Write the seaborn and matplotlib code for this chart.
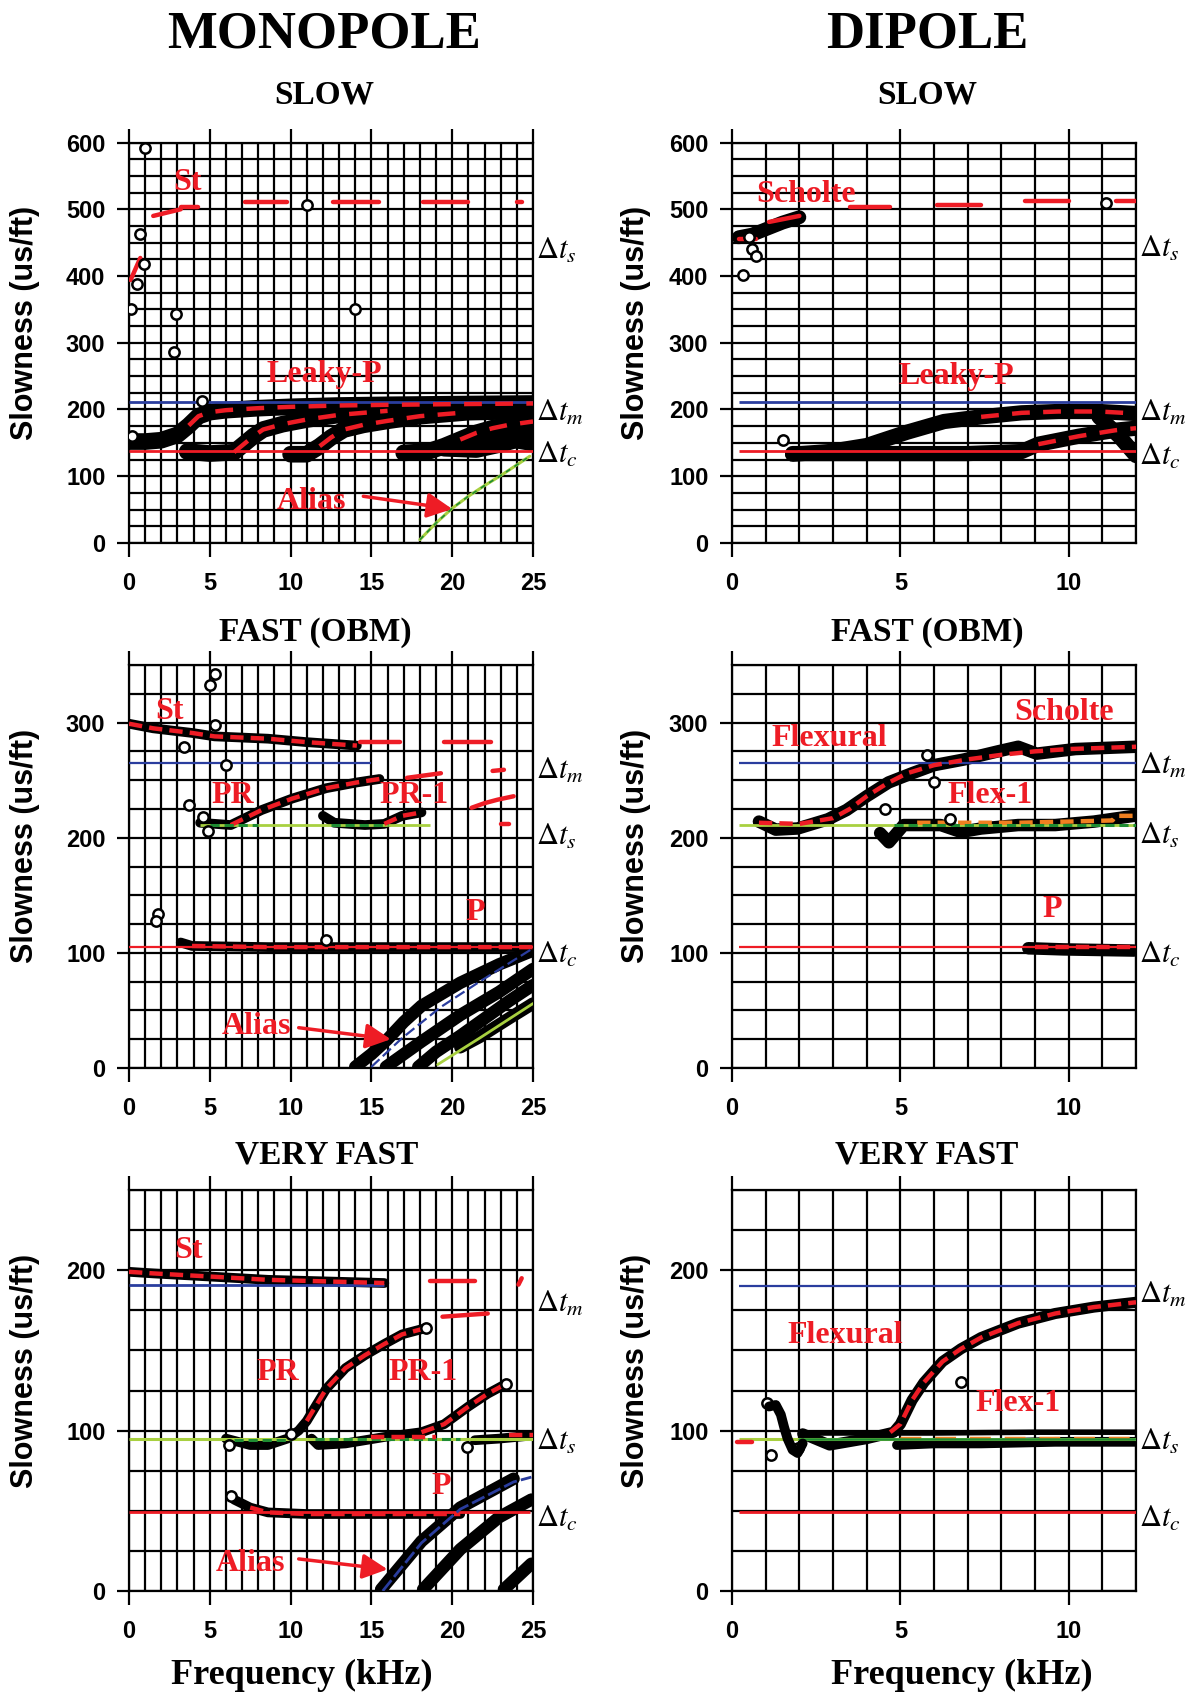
import matplotlib
matplotlib.use("Agg")
import matplotlib.pyplot as plt
from matplotlib.ticker import MultipleLocator
import seaborn as sns

sns.set_theme(style="white")
plt.rcParams["font.family"] = ["Liberation Sans", "DejaVu Sans"]
plt.rcParams["mathtext.fontset"] = "stix"

RED = "#ee1c25"
BLUE = "#2a3d9e"
LGREEN = "#a8d040"
DGREEN = "#1e8c32"
ORANGE = "#f08020"

# ---------------- DATA ----------------
# Top-left: MONOPOLE / SLOW
TL_REF_M, TL_REF_C = 211, 138
TL_B1_F = [0.0, 1.0, 2.0, 3.0, 3.7, 4.3, 5.0, 6.0, 8.0, 10.0, 13.0, 16.0, 20.0, 25.0]
TL_B1_S = [152, 152, 154, 162, 176, 190, 196, 199, 202, 204, 206, 207, 208, 209]
TL_B2_F = [3.6, 5.0, 6.5, 7.2, 7.7, 8.3, 9.5, 11.0, 13.0, 16.0, 20.0, 25.0]
TL_B2_S = [137, 134, 136, 150, 160, 170, 178, 185, 192, 198, 202, 203]
TL_B3_F = [10.0, 11.0, 11.8, 12.5, 13.3, 14.5, 16.0, 18.0, 21.0, 25.0]
TL_B3_S = [133, 133, 145, 158, 170, 177, 183, 190, 196, 198]
TL_B4_F = [17.0, 18.5, 19.5, 20.5, 21.5, 22.5, 23.5, 25.0]
TL_B4_S = [135, 137, 145, 155, 165, 172, 177, 182]
TL_B5_F = [19.5, 21.5, 23.0, 24.0, 25.0]
TL_B5_S = [142, 140, 148, 155, 162]
TL_B6_F = [21.0, 23.0, 25.0]
TL_B6_S = [150, 158, 150]
TL_ST_F = [[0.1, 0.7], [1.5, 3.2], [3.2, 4.3], [7.2, 9.8], [12.6, 15.5], [18.2, 21.0], [24.0, 24.3]]
TL_ST_S = [[394, 427], [490, 500], [504, 504], [511, 511], [511, 511], [511, 511], [511, 511]]
TL_ALIAS_F = [18.0, 19.0, 20.0, 21.0, 22.0, 23.0, 24.0, 24.8]
TL_ALIAS_S = [5, 30, 52, 70, 86, 101, 117, 130]
TL_CIRC_F = [1.0, 0.7, 0.9, 0.5, 0.1, 2.9, 2.8, 11.0, 14.0, 0.2, 4.5]
TL_CIRC_S = [592, 463, 418, 388, 350, 343, 286, 507, 350, 160, 212]

# Top-right: DIPOLE / SLOW
TR_REF_M, TR_REF_C = 211, 138
TR_SCH_F = [0.2, 0.6, 1.0, 1.5, 2.0]
TR_SCH_S = [458, 462, 470, 480, 488]
TR_SCHM_F = [[0.2, 0.7], [1.1, 2.0], [3.5, 4.7], [6.1, 7.4], [8.7, 10.0], [11.4, 12.0]]
TR_SCHM_S = [[456, 456], [481, 490], [504, 504], [506, 506], [512, 512], [512, 512]]
TR_LP1_F = [1.8, 2.9, 4.0, 5.2, 6.3, 7.4, 8.6, 9.7, 10.9, 12.0]
TR_LP1_S = [133, 137, 146, 166, 182, 189, 195, 197, 197, 194]
TR_LP2_F = [1.8, 2.9, 5.0, 7.0, 8.6, 9.1, 10.3, 11.4, 12.0]
TR_LP2_S = [134, 134, 134, 134, 137, 148, 160, 169, 172]
TR_LP3_F = [10.9, 11.5, 12.0]
TR_LP3_S = [189, 160, 131]
TR_CIRC_F = [0.34, 0.6, 0.5, 0.7, 11.1, 1.5]
TR_CIRC_S = [401, 441, 459, 430, 510, 154]

# Middle-left: MONOPOLE / FAST (OBM)
ML_REF_M, ML_REF_S, ML_REF_C = 265, 211, 105
ML_ST_F = [0.0, 1.5, 3.9, 5.3, 8.6, 11.0, 14.1]
ML_ST_S = [299, 295, 291, 288, 286, 283, 280]
ML_STX_F = [[14.3, 16.8], [19.5, 22.4], [17.2, 19.3], [22.5, 23.2], [21.2, 22.0, 22.8, 23.8], [23.0, 23.5]]
ML_STX_S = [[283, 283], [283, 283], [252, 256], [258, 259], [226, 230, 233, 236], [212, 212]]
ML_PR_F = [4.4, 6.3, 8.2, 10.1, 12.2, 14.1, 15.5]
ML_PR_S = [213, 211, 224, 234, 243, 248, 251]
ML_PR1_F = [12.0, 12.7, 14.6, 15.8, 16.9, 18.1]
ML_PR1_S = [219, 213, 211, 212, 219, 222]
ML_P_F = [3.2, 3.9, 8.6, 15.8, 25.0]
ML_P_S = [109, 106, 105, 105, 105]
ML_A1_F = [14.0, 15.0, 16.0, 17.0, 18.1, 20.5, 22.9, 25.0]
ML_A1_S = [1, 12, 25, 40, 54, 74, 90, 102]
ML_A2_F = [15.9, 17.0, 18.1, 20.5, 22.9, 25.0]
ML_A2_S = [1, 12, 23, 46, 66, 86]
ML_A3_F = [17.9, 19.0, 20.5, 22.0, 23.5, 25.0]
ML_A3_S = [1, 14, 28, 43, 58, 72]
ML_A4_F = [20.5, 21.7, 23.5, 25.0]
ML_A4_S = [18, 27, 43, 56]
ML_BLUE_F = [15.0, 16.9, 19.3, 21.7, 25.0]
ML_BLUE_S = [1, 26, 53, 75, 104]
ML_GREEN_F = [19.1, 21.7, 25.0]
ML_GREEN_S = [3, 26, 56]
ML_CIRC_F = [4.6, 4.9, 6.0, 5.3, 5.0, 5.3, 3.4, 3.7, 1.8, 1.65, 12.2]
ML_CIRC_S = [218, 206, 263, 298, 333, 342, 279, 228, 134, 128, 111]

# Middle-right: DIPOLE / FAST (OBM)
MR_REF_M, MR_REF_S, MR_REF_C = 265, 211, 105
MR_FL_F = [0.8, 1.3, 1.95, 2.85, 3.4, 4.0, 4.65, 5.35, 6.0, 6.9, 7.9, 8.5, 9.05, 10.2, 12.0]
MR_FL_S = [214, 207, 208, 216, 224, 236, 248, 256, 263, 268, 275, 279, 273, 277, 279]
MR_FLM_F = [0.8, 2.0, 3.0, 3.5, 4.0, 4.6, 5.2, 6.0, 7.0, 8.0, 9.0, 10.0, 11.0, 12.0]
MR_FLM_S = [213, 212, 217, 225, 236, 247, 256, 263, 268, 272, 275, 277, 278, 279]
MR_F1_F = [4.4, 4.66, 5.1, 6.2, 6.8, 7.4, 8.5, 9.6, 10.75, 11.94]
MR_F1_S = [204, 196, 211, 211, 205, 208, 211, 211, 214, 219]
MR_F1M_F = [5.5, 7.0, 8.5, 10.0, 11.3, 11.4, 12.0]
MR_F1M_S = [213, 213, 213, 214, 215, 219, 219]
MR_P_F = [8.8, 9.85, 11.94]
MR_P_S = [104, 103, 102]
MR_CIRC_F = [5.8, 6.0, 4.55, 6.47]
MR_CIRC_S = [272, 248, 225, 216]

# Bottom-left: MONOPOLE / VERY FAST
BL_REF_M, BL_REF_S, BL_REF_C = 191, 95, 49
BL_ST_F = [0.0, 1.5, 5.1, 8.6, 12.2, 15.8]
BL_ST_S = [199, 198, 196, 194, 193, 192]
BL_STX_F = [[18.6, 21.4], [19.4, 22.2], [24.1, 24.3]]
BL_STX_S = [[193, 193], [171, 173], [191, 195]]
BL_PR_F = [6.0, 7.5, 8.6, 9.8, 10.5, 11.0, 12.2, 13.4, 14.6, 15.8, 16.9, 18.4]
BL_PR_S = [95, 91, 91, 95, 100, 106, 126, 139, 147, 154, 160, 164]
BL_PR1_F = [11.3, 11.7, 13.4, 15.8, 18.1, 19.5, 21.0, 22.2, 23.3]
BL_PR1_S = [95, 91, 92, 96, 99, 104, 115, 123, 129]
BL_F3_F = [21.4, 22.9, 25.0]
BL_F3_S = [94, 95, 97]
BL_P_F = [6.5, 7.5, 8.6, 11.0, 15.8, 20.5]
BL_P_S = [57, 52, 49, 48, 48, 48]
BL_A1_F = [15.6, 18.1, 20.5, 23.8]
BL_A1_S = [1, 31, 52, 70]
BL_A2_F = [18.2, 20.5, 22.9, 24.9]
BL_A2_S = [1, 26, 46, 57]
BL_A3_F = [23.2, 24.9]
BL_A3_S = [1, 17]
BL_BLUE_F = [15.7, 18.1, 20.5, 23.8, 24.9]
BL_BLUE_S = [0, 30, 51, 68, 71]
BL_CIRC_F = [6.2, 6.3, 20.9, 18.4, 23.3, 10.0]
BL_CIRC_S = [91, 59, 90, 164, 129, 98]

# Bottom-right: DIPOLE / VERY FAST
BR_REF_M, BR_REF_S, BR_REF_C = 190, 95, 49
BR_OSC_F = [1.1, 1.3, 1.45, 1.55, 1.65, 1.8, 1.95, 2.1]
BR_OSC_S = [115, 116, 110, 102, 95, 88, 86, 92]
BR_FL_F = [2.1, 2.9, 4.0, 4.8, 5.0, 5.35, 5.7, 6.25, 6.8, 7.4, 8.5, 9.6, 10.75, 12.0]
BR_FL_S = [98, 91, 95, 99, 104, 119, 130, 143, 151, 158, 167, 173, 177, 180]
BR_FLM_F = [4.7, 5.0, 5.35, 5.7, 6.25, 6.8, 7.4, 8.5, 9.6, 10.75, 12.0]
BR_FLM_S = [99, 104, 119, 130, 143, 151, 158, 167, 173, 177, 180]
BR_F1_F = [4.9, 6.0, 7.4, 9.6, 12.0]
BR_F1_S = [91, 92, 92, 93, 93]
BR_UP_F = [2.2, 6.0, 9.0, 12.0]
BR_UP_S = [98.5, 98.5, 99, 99]
BR_CIRC_F = [1.05, 1.16, 1.95, 6.8]
BR_CIRC_S = [117, 85, 89, 130]

# ---------------- FIGURE ----------------
W, H = 1198, 1694
fig = plt.figure(figsize=(W / 100, H / 100), dpi=100)


def add_ax(px0, py0, px1, py1):
    return fig.add_axes([px0 / W, 1 - py1 / H, (px1 - px0) / W, (py1 - py0) / H])


def style(ax, xmax, ymax):
    ax.set_xlim(0, xmax)
    ax.set_ylim(0, ymax)
    ax.xaxis.set_major_locator(MultipleLocator(5))
    ax.xaxis.set_minor_locator(MultipleLocator(1))
    ax.yaxis.set_major_locator(MultipleLocator(100))
    ax.yaxis.set_minor_locator(MultipleLocator(25))
    ax.grid(which="both", color="black", lw=1.6)
    ax.set_axisbelow(True)
    for sp in ax.spines.values():
        sp.set_visible(True)
        sp.set_color("black")
        sp.set_linewidth(1.6)
    ax.tick_params(axis="x", which="major", direction="out", length=10, width=1.6,
                   top=True, bottom=True, labeltop=False, pad=11, labelsize=17, colors="black")
    ax.tick_params(axis="y", which="major", direction="out", length=9, width=1.6,
                   left=True, right=False, pad=8, labelsize=17, colors="black")
    ax.tick_params(which="minor", length=0)
    for lab in ax.get_xticklabels() + ax.get_yticklabels():
        lab.set_fontweight("bold")
    ax.set_xlabel("")
    ax.set_ylabel("Slowness (us/ft)", fontsize=22, fontweight="bold", color="black")


def band(ax, f, s, lw=7, z=3):
    sns.lineplot(x=f, y=s, ax=ax, color="black", lw=lw, sort=False, estimator=None,
                 solid_capstyle="round", zorder=z)


def model(ax, f, s, color=RED, lw=3.2, ls=(0, (3, 1.6))):
    sns.lineplot(x=f, y=s, ax=ax, color=color, lw=lw, sort=False, estimator=None,
                 linestyle=ls, zorder=5)


def circles(ax, f, s):
    sns.scatterplot(x=f, y=s, ax=ax, marker="o", s=55, facecolor="white",
                    edgecolor="black", linewidth=1.8, zorder=6)


def ref(ax, y, x0, x1, color, lw=1.6):
    ax.hlines([y], [x0], [x1], colors=color, lw=lw, zorder=4)


def label(ax, x, y, txt, size=23):
    ax.text(x, y, txt, color=RED, fontsize=size, fontweight="bold",
            family=["Liberation Serif", "DejaVu Serif"], ha="center", va="center", zorder=8)


def arrow(ax, tail, head):
    ax.annotate("", xy=head, xytext=tail,
                arrowprops=dict(arrowstyle="-|>", color=RED, lw=2.5, mutation_scale=38,
                                shrinkA=0, shrinkB=0), zorder=8)


def dlabel(ax, y, sub):
    ax.annotate(r"$\Delta t_{%s}$" % sub, xy=(1, y), xycoords=("axes fraction", "data"),
                xytext=(2, -7), textcoords="offset points", fontsize=22, va="baseline",
                ha="left", color="black", annotation_clip=False)


# ----- Top-left -----
ax = add_ax(129, 142.5, 533, 543)
style(ax, 25, 600)
for f, s in [(TL_B1_F, TL_B1_S), (TL_B2_F, TL_B2_S), (TL_B3_F, TL_B3_S),
             (TL_B4_F, TL_B4_S), (TL_B5_F, TL_B5_S), (TL_B6_F, TL_B6_S)]:
    band(ax, f, s, lw=12)
ref(ax, TL_REF_M, 0, 25, BLUE, 2)
ref(ax, TL_REF_C, 0, 25, RED, 2)
model(ax, TL_B1_F[4:], TL_B1_S[4:], ls=(0, (4, 3)))
model(ax, TL_B2_F[2:10], TL_B2_S[2:10], ls=(0, (4, 3)))
model(ax, TL_B3_F[2:9], TL_B3_S[2:9], ls=(0, (4, 3)))
model(ax, TL_B4_F[3:], TL_B4_S[3:], ls=(0, (4, 3)))
for f, s in zip(TL_ST_F, TL_ST_S):
    model(ax, f, s, ls="-")
sns.lineplot(x=TL_ALIAS_F, y=TL_ALIAS_S, ax=ax, color=LGREEN, lw=2.2, sort=False,
             estimator=None, zorder=5)
sns.lineplot(x=TL_ALIAS_F, y=TL_ALIAS_S, ax=ax, color=DGREEN, lw=1.2, sort=False,
             estimator=None, linestyle=(0, (3, 3)), zorder=5)
circles(ax, TL_CIRC_F, TL_CIRC_S)
label(ax, 3.6, 540, "St")
label(ax, 12.1, 252, "Leaky-P")
label(ax, 11.3, 62, "Alias")
arrow(ax, (14.5, 70), (20.0, 51))
dlabel(ax, 441, "s")
dlabel(ax, 197, "m")
dlabel(ax, 134, "c")
ax.yaxis.set_label_coords(-0.22, 0.55)

# ----- Top-right -----
ax = add_ax(732, 142.5, 1136, 543)
style(ax, 12, 600)
band(ax, TR_SCH_F, TR_SCH_S, lw=10)
for f, s in [(TR_LP1_F, TR_LP1_S), (TR_LP2_F, TR_LP2_S), (TR_LP3_F, TR_LP3_S)]:
    band(ax, f, s, lw=11)
ref(ax, TR_REF_M, 0.2, 12, BLUE, 2)
ref(ax, TR_REF_C, 0.2, 12, RED, 2)
for f, s in zip(TR_SCHM_F, TR_SCHM_S):
    model(ax, f, s, ls="-")
model(ax, TR_LP1_F[5:], TR_LP1_S[5:], ls=(0, (4, 3)))
model(ax, TR_LP2_F[5:], TR_LP2_S[5:], ls=(0, (4, 3)))
circles(ax, TR_CIRC_F, TR_CIRC_S)
label(ax, 2.2, 522, "Scholte")
label(ax, 6.65, 249, "Leaky-P")
dlabel(ax, 444, "s")
dlabel(ax, 197, "m")
dlabel(ax, 132, "c")
ax.yaxis.set_label_coords(-0.2, 0.55)

# ----- Middle-left -----
ax = add_ax(129, 665, 533, 1068)
style(ax, 25, 350)
for f, s in [(ML_ST_F, ML_ST_S), (ML_PR_F, ML_PR_S), (ML_PR1_F, ML_PR1_S), (ML_P_F, ML_P_S)]:
    band(ax, f, s, lw=7)
for f, s in [(ML_A1_F, ML_A1_S), (ML_A2_F, ML_A2_S), (ML_A3_F, ML_A3_S), (ML_A4_F, ML_A4_S)]:
    band(ax, f, s, lw=9)
ref(ax, ML_REF_M, 0, 15, BLUE)
ref(ax, ML_REF_S, 4.4, 18.6, LGREEN, 2)
ref(ax, ML_REF_C, 0, 25, RED)
model(ax, ML_ST_F, ML_ST_S)
for f, s in zip(ML_STX_F, ML_STX_S):
    model(ax, f, s, ls="-")
model(ax, ML_PR_F[1:], ML_PR_S[1:])
model(ax, ML_PR1_F[3:], ML_PR1_S[3:])
model(ax, [5.0, 8.0], [211, 211], color=DGREEN, lw=2.2)
model(ax, [12.5, 16.0], [211, 211], color=DGREEN, lw=2.2)
model(ax, ML_P_F[1:], ML_P_S[1:])
sns.lineplot(x=ML_BLUE_F, y=ML_BLUE_S, ax=ax, color=BLUE, lw=1.6, sort=False,
             estimator=None, linestyle=(0, (5, 2)), zorder=5)
sns.lineplot(x=ML_GREEN_F, y=ML_GREEN_S, ax=ax, color=LGREEN, lw=2, sort=False,
             estimator=None, zorder=5)
circles(ax, ML_CIRC_F, ML_CIRC_S)
label(ax, 2.5, 310, "St")
label(ax, 6.4, 237, "PR")
label(ax, 17.65, 237, "PR-1")
label(ax, 21.4, 135, "P")
label(ax, 7.9, 36, "Alias")
arrow(ax, (10.5, 35), (16.2, 25))
dlabel(ax, 260, "m")
dlabel(ax, 202, "s")
dlabel(ax, 100, "c")
ax.yaxis.set_label_coords(-0.22, 0.55)

# ----- Middle-right -----
ax = add_ax(732, 665, 1136, 1068)
style(ax, 12, 350)
band(ax, MR_FL_F, MR_FL_S, lw=9)
band(ax, MR_F1_F, MR_F1_S, lw=9)
band(ax, MR_P_F, MR_P_S, lw=9)
ref(ax, MR_REF_M, 0.2, 12, BLUE)
ref(ax, MR_REF_S, 0.2, 12, LGREEN, 2)
ref(ax, MR_REF_C, 0.2, 12, RED)
model(ax, MR_FLM_F, MR_FLM_S)
model(ax, MR_F1M_F, MR_F1M_S, color=ORANGE)
model(ax, [4.8, 12.0], [211, 211], color=DGREEN, lw=2.2)
model(ax, [9.0, 12.0], [105, 105])
circles(ax, MR_CIRC_F, MR_CIRC_S)
label(ax, 2.9, 286, "Flexural")
label(ax, 9.85, 309, "Scholte")
label(ax, 7.65, 237, "Flex-1")
label(ax, 9.5, 138, "P")
dlabel(ax, 264, "m")
dlabel(ax, 203, "s")
dlabel(ax, 100, "c")
ax.yaxis.set_label_coords(-0.2, 0.55)

# ----- Bottom-left -----
ax = add_ax(129, 1190, 533, 1591)
style(ax, 25, 250)
for f, s in [(BL_ST_F, BL_ST_S), (BL_PR_F, BL_PR_S), (BL_PR1_F, BL_PR1_S), (BL_F3_F, BL_F3_S),
             (BL_P_F, BL_P_S)]:
    band(ax, f, s, lw=7)
for f, s in [(BL_A1_F, BL_A1_S), (BL_A2_F, BL_A2_S), (BL_A3_F, BL_A3_S)]:
    band(ax, f, s, lw=9)
ref(ax, BL_REF_M, 0, 15.8, BLUE, 2)
ref(ax, BL_REF_S, 0, 25, LGREEN, 2.2)
ref(ax, BL_REF_C, 0, 24.8, RED, 2)
model(ax, BL_ST_F, BL_ST_S)
for f, s in zip(BL_STX_F, BL_STX_S):
    model(ax, f, s, ls="-")
model(ax, BL_PR_F[5:], BL_PR_S[5:])
model(ax, BL_PR1_F[4:], BL_PR1_S[4:])
model(ax, [6.5, 10.0], [94, 94], color=DGREEN, lw=2.2)
model(ax, [11.5, 20.5], [95, 95], color=DGREEN, lw=2.2)
model(ax, [15.0, 19.0], [96, 96])
model(ax, [23.5, 25.0], [97, 97])
model(ax, BL_P_F[1:], BL_P_S[1:])
sns.lineplot(x=BL_BLUE_F, y=BL_BLUE_S, ax=ax, color=BLUE, lw=2, sort=False,
             estimator=None, linestyle=(0, (5, 1.5)), zorder=5)
circles(ax, BL_CIRC_F, BL_CIRC_S)
label(ax, 3.7, 212, "St")
label(ax, 9.2, 136, "PR")
label(ax, 18.2, 136, "PR-1")
label(ax, 19.3, 65, "P")
label(ax, 7.5, 17, "Alias")
arrow(ax, (10.5, 20), (16.0, 13.5))
dlabel(ax, 180, "m")
dlabel(ax, 94, "s")
dlabel(ax, 46, "c")
ax.yaxis.set_label_coords(-0.22, 0.55)

# ----- Bottom-right -----
ax = add_ax(732, 1190, 1136, 1591)
style(ax, 12, 250)
band(ax, BR_FL_F, BR_FL_S, lw=8)
band(ax, BR_F1_F, BR_F1_S, lw=7)
band(ax, BR_UP_F, BR_UP_S, lw=4)
ref(ax, BR_REF_M, 0.2, 12, BLUE)
ref(ax, BR_REF_S, 0.2, 12, LGREEN, 2.2)
ref(ax, BR_REF_C, 0.2, 12, RED, 2)
model(ax, BR_FLM_F, BR_FLM_S)
model(ax, [0.15, 0.6], [93, 93], ls="-")
model(ax, [5.0, 12.0], [95.5, 95.5], color=ORANGE, lw=2.5, ls=(0, (6, 4)))
model(ax, [2.0, 12.0], [95, 95], color=DGREEN, lw=1.8, ls="-")
circles(ax, BR_CIRC_F, BR_CIRC_S)
band(ax, BR_OSC_F, BR_OSC_S, lw=7, z=7)
label(ax, 3.36, 159, "Flexural")
label(ax, 8.5, 117, "Flex-1")
dlabel(ax, 186, "m")
dlabel(ax, 94, "s")
dlabel(ax, 46, "c")
ax.yaxis.set_label_coords(-0.2, 0.55)

# ----- Titles -----
SERIF = ["Liberation Serif", "DejaVu Serif"]


def ftext(px, py, txt, size):
    fig.text(px / W, 1 - py / H, txt, fontsize=size, fontweight="bold", family=SERIF,
             ha="center", va="baseline", color="black")


ftext(324, 48, "MONOPOLE", 38)
ftext(927, 48, "DIPOLE", 38)
ftext(324, 103, "SLOW", 24)
ftext(927, 103, "SLOW", 24)
ftext(315, 641, "FAST (OBM)", 24)
ftext(927, 641, "FAST (OBM)", 24)
ftext(327, 1163, "VERY FAST", 24)
ftext(927, 1163, "VERY FAST", 24)
ftext(302, 1684, "Frequency (kHz)", 26)
ftext(962, 1684, "Frequency (kHz)", 26)

fig.savefig("out.png", dpi=100)
